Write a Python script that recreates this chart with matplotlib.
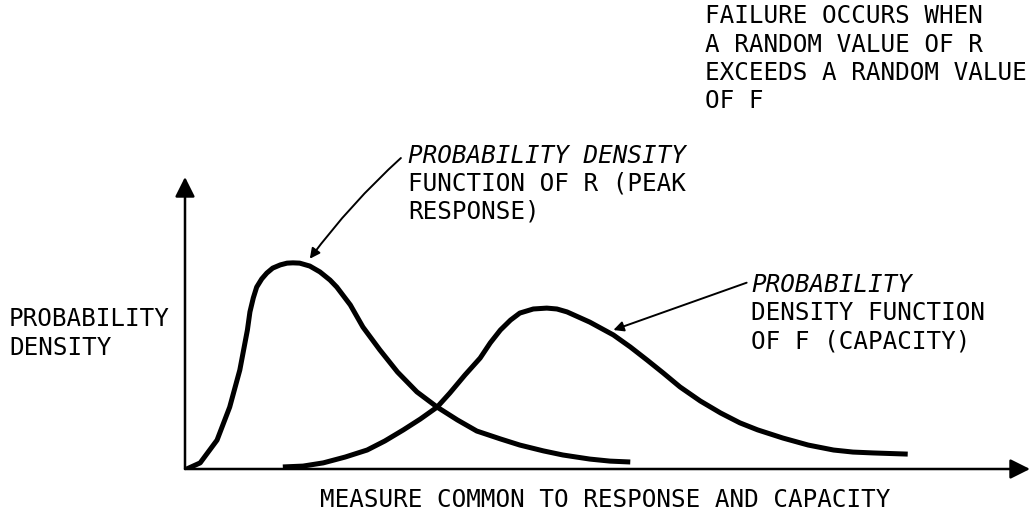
import numpy as np
import matplotlib.pyplot as plt

# curve points (measure, density) in axis units 0..100
r_x = [0.2, 1.8, 3.8, 5.3, 6.5, 7.4, 7.7, 8.1, 8.5, 9.1, 9.7, 10.4, 11.3, 12.1, 12.8,
       13.6, 14.8, 16.0, 17.2, 18.0, 19.6, 21.1, 23.1, 25.2, 27.5, 29.9, 32.3, 34.6,
       37.4, 39.7, 42.5, 44.8, 48.0, 50.4, 52.8]
r_y = [0, 2.1, 9.9, 21.2, 33.9, 47.6, 53.8, 58.6, 62.3, 65.1, 67.1, 68.8, 69.9, 70.5,
       70.6, 70.5, 69.5, 67.5, 64.7, 62.3, 56.2, 48.6, 40.8, 33.2, 26.4, 21.2, 16.8,
       13.0, 10.3, 8.2, 6.2, 4.8, 3.4, 2.7, 2.4]
f_x = [11.6, 14.0, 16.4, 19.0, 21.6, 23.7, 25.9, 27.9, 29.9, 31.4, 33.2, 35.0, 36.2,
       37.4, 38.6, 39.7, 41.3, 42.9, 44.1, 45.3, 48.0, 50.8, 52.8, 54.8, 56.7, 58.7,
       61.1, 63.5, 65.8, 67.9, 70.9, 73.9, 76.9, 79.2, 81.6, 85.7]
f_y = [0.7, 1.0, 2.1, 4.1, 6.5, 9.6, 13.4, 17.1, 21.2, 26.0, 32.2, 38.0, 43.2, 47.6,
       51.0, 53.4, 54.8, 55.1, 54.8, 53.8, 50.3, 45.9, 41.8, 37.3, 32.9, 28.1, 23.3,
       19.2, 15.8, 13.4, 10.6, 8.2, 6.5, 5.8, 5.5, 5.1]

x_label = "MEASURE COMMON TO RESPONSE AND CAPACITY"
y_label = ["PROBABILITY", "DENSITY"]
r_label = ["PROBABILITY DENSITY", "FUNCTION OF R (PEAK", "RESPONSE)"]
f_label = ["PROBABILITY", "DENSITY FUNCTION", "OF F (CAPACITY)"]
note = ["FAILURE OCCURS WHEN", "A RANDOM VALUE OF R", "EXCEEDS A RANDOM VALUE", "OF F"]

W, H = 1031, 517
FONT = "DejaVu Sans Mono"
FS = 17.5


def px(x, y):
    return x / W, 1 - y / H


def put_lines(lines, x, y0, step, italic_first=False):
    for i, s in enumerate(lines):
        style = "italic" if (italic_first and i == 0) else "normal"
        fig.text(*px(x, y0 + i * step), s, family=FONT, fontsize=FS, style=style,
                 va="center", ha="left", color="black")


fig = plt.figure(figsize=(W / 100, H / 100), dpi=100)
ax = fig.add_axes([185 / W, 48 / H, 845 / W, 292 / H])
ax.set_xlim(0, 100.2)
ax.set_ylim(0, 100)
ax.axis("off")

# axes with arrow heads
for tip in [(0, 1), (1, 0)]:
    ax.annotate("", xy=tip, xytext=(0, 0), xycoords="axes fraction",
                arrowprops=dict(arrowstyle="-|>", mutation_scale=30, lw=1.8, color="black",
                                shrinkA=0, shrinkB=0))

ax.plot(r_x, r_y, color="black", lw=3.6, solid_joinstyle="round", solid_capstyle="butt")
ax.plot(f_x, f_y, color="black", lw=3.6, solid_joinstyle="round", solid_capstyle="butt")

# pointers from labels to curves
ax.annotate("", xy=(14.8, 72.0), xytext=(25.6, 106.5),
            arrowprops=dict(arrowstyle="-|>", lw=1.4, color="black", mutation_scale=15,
                            shrinkA=0, shrinkB=0, connectionstyle="arc3,rad=0.05"),
            annotation_clip=False)
ax.annotate("", xy=(50.8, 47.6), xytext=(66.6, 63.8),
            arrowprops=dict(arrowstyle="-|>", lw=1.4, color="black", mutation_scale=15,
                            shrinkA=0, shrinkB=0),
            annotation_clip=False)

put_lines(note, 705, 16, 28.5)
put_lines(r_label, 408, 156, 28, italic_first=True)
put_lines(y_label, 9, 319, 29)
put_lines(f_label, 751, 285, 28.5, italic_first=True)
put_lines([x_label], 320, 500, 0)

fig.savefig("out.png", dpi=100)
